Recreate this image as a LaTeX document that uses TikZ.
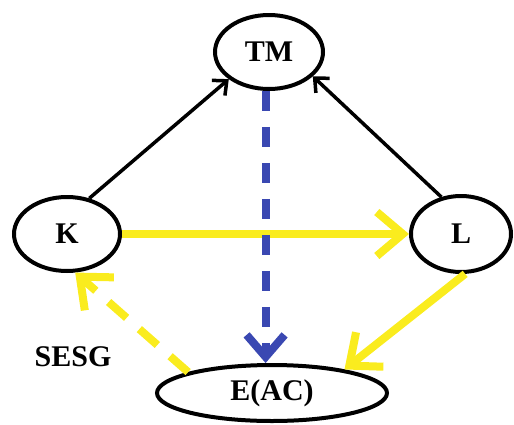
\documentclass[tikz,border=0pt]{standalone}
\usepackage{fontspec}
\setmainfont{Liberation Serif}
\usetikzlibrary{shapes,arrows.meta,calc}
\usepackage{xcolor}
\definecolor{sunyellow}{RGB}{250,236,30}
\definecolor{inkblue}{RGB}{58,72,178}

\begin{document}
\begin{tikzpicture}[x=1pt,y=-1pt,
        state/.style={ellipse,draw,line width=4pt,inner sep=0pt,
            font=\fontsize{30}{34}\selectfont\bfseries},
        blackarrow/.style={line width=3.5pt,-{Straight Barb[length=11pt,width=20pt]}},
        yellowarrow/.style={sunyellow,line width=8pt,-{Straight Barb[length=26pt,width=44pt]}},
        bluearrow/.style={inkblue,line width=8pt,dash pattern=on 20pt off 16pt,
            -{Straight Barb[length=22pt,width=38pt]}}]
        \useasboundingbox (0,0) rectangle (514,424);

        % States
        \node[state,minimum width=108pt,minimum height=74pt] (TM) at (269,52) {TM};
        \node[state,minimum width=106pt,minimum height=74pt] (K) at (67,234) {K};
        \node[state,minimum width=100pt,minimum height=76pt] (L) at (461,234) {L};
        \node[state,minimum width=230pt,minimum height=56pt] (EAC) at (272,393) {E(AC)};

        % Label
        \node[font=\fontsize{30}{34}\selectfont\bfseries] (sesg) at (73,357) {SESG};

        % Black arrows to TM
        \draw[blackarrow] (K.58) -- (TM.214);
        \draw[blackarrow] (L.118) -- (TM.331);

        % Yellow arrows
        \draw[yellowarrow] (K.east) -- (L.west);
        \draw[yellowarrow] (L.276) -- (EAC.18);
        \draw[yellowarrow,dash pattern=on 24pt off 17pt] (EAC.166) -- (K.282);

        % Blue dashed arrow
        \draw[bluearrow] (TM.265) -- (TM.265 |- EAC.north);

    \end{tikzpicture}
\end{document}
